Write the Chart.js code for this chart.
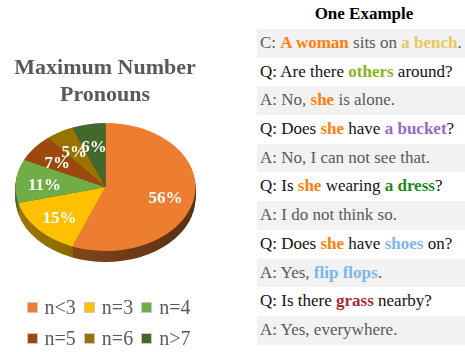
<!DOCTYPE html>
<html>
<head>
<meta charset="utf-8">
<script src="https://cdn.jsdelivr.net/npm/chart.js@4.4.1/dist/chart.umd.min.js"></script>
<style>
  html, body { margin: 0; padding: 0; background: #fff; }
  body {
    width: 465px; height: 352px; position: relative; overflow: hidden;
    font-family: "Liberation Serif", "Times New Roman", serif;
  }
  #pieBox { position: absolute; left: 0; top: 0; width: 230px; height: 352px; }
  #legend { position: absolute; left: 0; top: 292px; width: 217px; }
  .row { display: flex; justify-content: center; align-items: center; height: 31px; }
  .item { display: flex; align-items: center; margin: 0 4px; font-size: 20px; color: #595959; }
  .sw { width: 9px; height: 9px; border: 1px solid #c9c9c9; margin-right: 7px; }
  #example { position: absolute; left: 257px; top: 0; width: 208px; }
  #example h3 {
    margin: 0; height: 29px; line-height: 28px; font-size: 17px;
    text-align: center; padding-left: 6px; color: #000;
  }
  .line { height: 28.7px; line-height: 28.7px; padding-left: 3px; font-size: 17px; white-space: nowrap; }
  .line.gray { background: #f2f2f2; color: #595959; }
  .line.plain { color: #111; }
</style>
</head>
<body>
<div id="pieBox"><canvas id="pie"></canvas></div>
<div id="legend"></div>
<div id="example"><h3>One Example</h3><div id="lines"></div></div>

<script>
// pie data
const categories = ['n<3', 'n=3', 'n=4', 'n=5', 'n=6', 'n>7'];
const shares = [56, 15, 11, 7, 5, 6];
const sliceColors = ['#ED7D31', '#FFC000', '#70AD47', '#9E480E', '#997300', '#43682B'];

// dialogue lines: [text, colour] pieces, colour null = normal text
const dialogue = [
  [['C: ', null], ['A woman', '#ff7f0e'], [' sits on ', null], ['a bench', '#e8c860'], ['.', null]],
  [['Q: Are there ', null], ['others', '#8ab31a'], [' around?', null]],
  [['A: No, ', null], ['she', '#ff7f0e'], [' is alone.', null]],
  [['Q: Does ', null], ['she', '#ff7f0e'], [' have ', null], ['a bucket', '#9966cc'], ['?', null]],
  [['A: No, I can not see that.', null]],
  [['Q: Is ', null], ['she', '#ff7f0e'], [' wearing ', null], ['a dress', '#1f8a1f'], ['?', null]],
  [['A: I do not think so.', null]],
  [['Q: Does ', null], ['she', '#ff7f0e'], [' have ', null], ['shoes', '#7db7e8'], [' on?', null]],
  [['A: Yes, ', null], ['flip flops', '#7db7e8'], ['.', null]],
  [['Q: Is there ', null], ['grass', '#a82838'], [' nearby?', null]],
  [['A: Yes, everywhere.', null]]
];

// ellipse the flat pie is squashed onto
const CX = 105.5, CY = 187, RX = 90, RY = 64, DEPTH = 11;
const SERIF = '"Liberation Serif", "Times New Roman", serif';

function shade(hex, k) {
  const n = parseInt(hex.slice(1), 16);
  const r = Math.round(((n >> 16) & 255) * k);
  const g = Math.round(((n >> 8) & 255) * k);
  const b = Math.round((n & 255) * k);
  return `rgb(${r},${g},${b})`;
}

const tiltPlugin = {
  id: 'tilt',
  beforeDatasetsDraw(chart) {
    const ctx = chart.ctx;
    const arcs = chart.getDatasetMeta(0).data;
    const { x, y, outerRadius: r } = arcs[0];
    const toEllipse = (dy) => {
      ctx.translate(CX, CY + dy);
      ctx.scale(RX / r, RY / r);
      ctx.translate(-x, -y);
    };
    // side wall, drawn as stacked darker copies
    for (let d = DEPTH; d > 0; d--) {
      ctx.save();
      toEllipse(d);
      arcs.forEach((arc, i) => {
        const grad = ctx.createLinearGradient(x - r, 0, x + r, 0);
        grad.addColorStop(0, shade(sliceColors[i], 0.62));
        grad.addColorStop(1, shade(sliceColors[i], 0.38));
        ctx.beginPath();
        ctx.moveTo(x, y);
        ctx.arc(x, y, r, arc.startAngle, arc.endAngle);
        ctx.closePath();
        ctx.fillStyle = grad;
        ctx.fill();
      });
      ctx.restore();
    }
    ctx.save();
    toEllipse(0);
  },
  afterDatasetsDraw(chart) {
    const ctx = chart.ctx;
    ctx.restore();
    const arcs = chart.getDatasetMeta(0).data;
    const total = shares.reduce((a, b) => a + b, 0);
    ctx.save();
    ctx.fillStyle = '#fff';
    ctx.font = 'bold 17px ' + SERIF;
    ctx.textAlign = 'center';
    ctx.textBaseline = 'middle';
    arcs.forEach((arc, i) => {
      const mid = (arc.startAngle + arc.endAngle) / 2;
      const f = 0.68;
      const lx = CX + RX * f * Math.cos(mid);
      const ly = CY + RY * f * Math.sin(mid) + 3;
      ctx.fillText(Math.round(shares[i] / total * 100) + '%', lx, ly);
    });
    ctx.restore();
  }
};

new Chart(document.getElementById('pie'), {
  type: 'pie',
  data: {
    labels: categories,
    datasets: [{
      data: shares,
      backgroundColor: sliceColors,
      borderWidth: 0,
      hoverOffset: 0,
      clip: false
    }]
  },
  options: {
    responsive: true,
    maintainAspectRatio: false,
    animation: false,
    layout: { padding: { left: 0, right: 20, top: 0, bottom: 60 } },
    plugins: {
      legend: { display: false },
      tooltip: { enabled: false },
      title: {
        display: true,
        text: ['Maximum Number', 'Pronouns'],
        color: '#595959',
        font: { family: SERIF, size: 22, weight: 'bold', lineHeight: 1.23 },
        padding: { top: 55, bottom: 10 }
      }
    }
  },
  plugins: [tiltPlugin]
});

// legend, three per row
const legend = document.getElementById('legend');
for (let start = 0; start < categories.length; start += 3) {
  const row = document.createElement('div');
  row.className = 'row';
  categories.slice(start, start + 3).forEach((name, j) => {
    const item = document.createElement('div');
    item.className = 'item';
    const sw = document.createElement('span');
    sw.className = 'sw';
    sw.style.background = sliceColors[start + j];
    item.appendChild(sw);
    item.appendChild(document.createTextNode(name));
    row.appendChild(item);
  });
  legend.appendChild(row);
}

// example dialogue
const lines = document.getElementById('lines');
dialogue.forEach((parts, i) => {
  const div = document.createElement('div');
  div.className = 'line ' + (i % 2 === 0 ? 'gray' : 'plain');
  parts.forEach(([text, color]) => {
    if (color) {
      const b = document.createElement('b');
      b.style.color = color;
      b.textContent = text;
      div.appendChild(b);
    } else {
      div.appendChild(document.createTextNode(text));
    }
  });
  lines.appendChild(div);
});
</script>
</body>
</html>
